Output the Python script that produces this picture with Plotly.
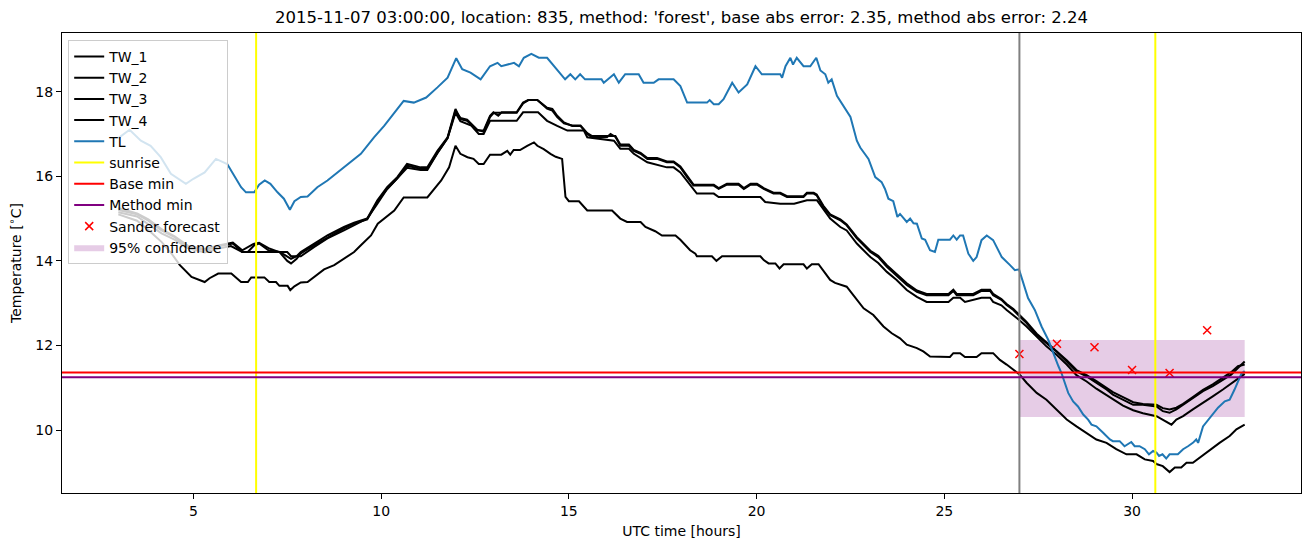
import plotly.graph_objects as go

# ---------------- data ----------------
tl_h = [3.0, 3.3, 3.6, 3.86, 4.13, 4.4, 4.8, 5.0, 5.3, 5.6, 5.9, 6.27, 6.4, 6.62, 6.75, 6.9, 7.05, 7.24, 7.41, 7.57,
        7.69, 7.86, 8.04, 8.3, 8.57, 8.84, 9.1, 9.46, 9.81, 10.08, 10.35, 10.6, 10.87, 11.2, 11.5, 11.77, 12.0, 12.16,
        12.38, 12.65, 12.9, 13.1, 13.2, 13.54, 13.67, 13.8, 14.0, 14.2, 14.42, 14.6, 14.9, 15.04, 15.17, 15.3, 15.43,
        15.87, 15.93, 16.2, 16.33, 16.5, 16.86, 16.99, 17.26, 17.39, 17.79, 17.97, 18.15, 18.68, 18.75, 18.86, 18.99,
        19.12, 19.35, 19.52, 19.75, 19.97, 20.14, 20.63, 20.68, 20.77, 20.9, 20.97, 21.07, 21.25, 21.43, 21.59, 21.7,
        21.83, 21.91, 22.0, 22.14, 22.5, 22.67, 22.76, 22.98, 23.16, 23.33, 23.42, 23.51, 23.64, 23.75, 23.82, 24.0,
        24.09, 24.18, 24.27, 24.4, 24.49, 24.62, 24.75, 24.84, 25.15, 25.24, 25.33, 25.42, 25.5, 25.64, 25.77, 25.86,
        25.99, 26.13, 26.3, 26.39, 26.53, 26.75, 26.88, 26.99, 27.1, 27.23, 27.41, 27.59, 27.77, 27.9, 28.04, 28.12,
        28.21, 28.3, 28.43, 28.56, 28.7, 28.83, 28.92, 29.05, 29.23, 29.41, 29.49, 29.67, 29.8, 29.98, 30.07, 30.2,
        30.34, 30.45, 30.56, 30.65, 30.72, 30.81, 30.91, 31.0, 31.22, 31.36, 31.49, 31.62, 31.71, 31.76, 31.89, 32.11,
        32.29, 32.47, 32.6, 32.73, 32.82, 32.91, 33.0]
tl_t = [16.9, 17.1, 16.84, 16.72, 16.45, 16.06, 15.82, 15.94, 16.09, 16.41, 16.29, 15.74, 15.62, 15.62, 15.8, 15.9,
        15.82, 15.62, 15.47, 15.21, 15.41, 15.51, 15.52, 15.74, 15.9, 16.09, 16.29, 16.53, 16.92, 17.19, 17.5, 17.78,
        17.74, 17.86, 18.1, 18.33, 18.79, 18.53, 18.45, 18.29, 18.6, 18.68, 18.6, 18.68, 18.6, 18.8, 18.89, 18.8, 18.8,
        18.6, 18.29, 18.41, 18.29, 18.41, 18.29, 18.29, 18.21, 18.41, 18.21, 18.41, 18.41, 18.21, 18.21, 18.29, 18.29,
        18.13, 17.74, 17.74, 17.8, 17.7, 17.7, 17.82, 18.21, 17.98, 18.17, 18.6, 18.41, 18.41, 18.33, 18.6, 18.8, 18.64,
        18.8, 18.6, 18.6, 18.8, 18.5, 18.41, 18.21, 18.29, 17.9, 17.4, 16.84, 16.68, 16.41, 15.98, 15.86, 15.7, 15.47,
        15.41, 15.04, 15.11, 14.92, 15.0, 14.89, 14.88, 14.53, 14.5, 14.25, 14.21, 14.5, 14.5, 14.6, 14.5, 14.6, 14.6,
        14.17, 14.0, 14.09, 14.49, 14.6, 14.49, 14.33, 14.09, 13.9, 13.78, 13.8, 13.51, 13.12, 12.84, 12.45, 12.13,
        11.82, 11.51, 11.35, 11.12, 10.88, 10.68, 10.56, 10.37, 10.25, 10.13, 10.09, 9.94, 9.78, 9.74, 9.74, 9.62,
        9.72, 9.62, 9.62, 9.55, 9.43, 9.51, 9.47, 9.39, 9.43, 9.33, 9.43, 9.43, 9.55, 9.62, 9.7, 9.78, 9.7, 10.09,
        10.33, 10.53, 10.68, 10.72, 10.96, 11.15, 11.33, 11.4]

tw1_h = [3.0, 3.5, 3.8, 4.15, 4.5, 4.85, 5.3, 5.7, 6.05, 6.3, 6.45, 6.62, 6.75, 6.89, 7.0, 7.3, 7.5, 7.6, 7.75, 7.86,
         8.22, 8.57, 9.01, 9.28, 9.63, 9.9, 10.16, 10.43, 10.69, 11.05, 11.23, 11.5, 11.77, 11.98, 12.11, 12.29, 12.56,
         12.73, 12.9, 12.99, 13.12, 13.21, 13.61, 13.78, 13.92, 14.16, 14.42, 14.56, 14.69, 14.87, 15.09, 15.31, 15.49,
         15.62, 16.02, 16.11, 16.24, 16.37, 16.6, 16.73, 16.91, 17.09, 17.35, 17.61, 17.79, 17.97, 18.15, 18.32, 18.86,
         18.99, 19.21, 19.52, 19.66, 19.84, 20.01, 20.19, 20.45, 20.63, 20.81, 21.25, 21.34, 21.52, 21.6, 21.78, 21.96,
         22.23, 22.4, 22.67, 23.03, 23.24, 23.47, 23.73, 24.0, 24.27, 24.53, 25.11, 25.24, 25.33, 25.77, 25.99, 26.22,
         26.3, 26.52, 26.66, 26.84, 26.97, 27.19, 27.46, 27.72, 27.99, 28.26, 28.52, 28.79, 29.05, 29.32, 29.49, 29.76,
         30.03, 30.29, 30.65, 30.82, 31.0, 31.18, 31.36, 31.62, 31.89, 32.15, 32.42, 32.64, 32.82, 32.91, 33.0]
tw1_t = [15.2, 15.1, 14.95, 14.72, 14.56, 14.33, 14.25, 14.35, 14.41, 14.21, 14.21, 14.37, 14.41, 14.33, 14.25, 14.21,
         14.11, 14.05, 14.11, 14.21, 14.41, 14.6, 14.8, 14.9, 15.0, 15.43, 15.74, 15.98, 16.29, 16.21, 16.21, 16.6,
         16.92, 17.59, 17.35, 17.31, 17.08, 17.08, 17.43, 17.51, 17.43, 17.51, 17.51, 17.74, 17.8, 17.8, 17.62, 17.59,
         17.43, 17.27, 17.19, 17.19, 17.0, 16.92, 16.93, 17.0, 16.93, 16.72, 16.72, 16.6, 16.53, 16.41, 16.41, 16.33,
         16.33, 16.21, 15.98, 15.78, 15.78, 15.7, 15.8, 15.8, 15.7, 15.8, 15.8, 15.7, 15.59, 15.59, 15.51, 15.51, 15.59,
         15.59, 15.55, 15.27, 15.08, 14.96, 14.84, 14.53, 14.21, 14.09, 13.86, 13.66, 13.43, 13.27, 13.19, 13.19, 13.29,
         13.19, 13.19, 13.29, 13.29, 13.19, 13.08, 12.96, 12.84, 12.72, 12.53, 12.25, 12.06, 11.86, 11.62, 11.39, 11.27,
         11.12, 10.96, 10.84, 10.72, 10.6, 10.6, 10.56, 10.45, 10.41, 10.49, 10.6, 10.76, 10.92, 11.04, 11.19, 11.31,
         11.47, 11.55, 11.62]

tw2_h = [3.0, 3.5, 3.8, 4.15, 4.5, 4.85, 5.3, 5.7, 6.05, 6.3, 6.6, 6.75, 7.0, 7.3, 7.5, 7.6, 7.75, 7.86, 8.22, 8.57,
         9.01, 9.28, 9.63, 9.9, 10.16, 10.43, 10.69, 11.05, 11.23, 11.5, 11.77, 11.98, 12.11, 12.29, 12.56, 12.73, 12.9,
         13.0, 13.21, 13.61, 13.78, 13.92, 14.16, 14.42, 14.56, 14.69, 14.87, 15.09, 15.31, 15.49, 15.62, 16.02, 16.24,
         16.37, 16.6, 16.73, 16.91, 17.09, 17.35, 17.61, 17.79, 17.97, 18.15, 18.32, 18.86, 18.99, 19.21, 19.52, 19.66,
         19.84, 20.01, 20.19, 20.45, 20.63, 20.81, 21.25, 21.34, 21.52, 21.6, 21.78, 21.96, 22.23, 22.4, 22.67, 23.03,
         23.24, 23.47, 23.73, 24.0, 24.27, 24.53, 25.11, 25.24, 25.33, 25.77, 25.99, 26.22, 26.3, 26.52, 26.66, 26.84,
         26.97, 27.19, 27.46, 27.72, 27.99, 28.26, 28.52, 28.79, 29.05, 29.32, 29.49, 29.76, 30.03, 30.29, 30.65, 30.82,
         31.0, 31.18, 31.36, 31.62, 31.89, 32.15, 32.42, 32.64, 32.82, 33.0]
tw2_t = [15.25, 15.12, 14.98, 14.75, 14.58, 14.36, 14.28, 14.37, 14.43, 14.25, 14.4, 14.43, 14.3, 14.2, 14.0, 13.94,
         14.05, 14.18, 14.37, 14.55, 14.77, 14.88, 14.98, 15.4, 15.7, 15.95, 16.25, 16.18, 16.18, 16.55, 16.9, 17.55,
         17.38, 17.34, 17.1, 17.05, 17.4, 17.5, 17.5, 17.5, 17.72, 17.8, 17.8, 17.6, 17.55, 17.4, 17.25, 17.2, 17.2,
         17.02, 16.95, 16.95, 16.95, 16.75, 16.75, 16.62, 16.55, 16.43, 16.43, 16.35, 16.35, 16.23, 16.0, 15.8, 15.8,
         15.72, 15.82, 15.82, 15.72, 15.82, 15.82, 15.72, 15.61, 15.61, 15.53, 15.53, 15.61, 15.61, 15.57, 15.3, 15.1,
         14.98, 14.86, 14.56, 14.24, 14.12, 13.9, 13.7, 13.47, 13.3, 13.22, 13.22, 13.32, 13.22, 13.22, 13.32, 13.32,
         13.22, 13.1, 12.98, 12.86, 12.75, 12.56, 12.28, 12.08, 11.88, 11.65, 11.42, 11.3, 11.16, 11.0, 10.9, 10.78,
         10.66, 10.62, 10.6, 10.52, 10.49, 10.53, 10.62, 10.78, 10.95, 11.08, 11.24, 11.37, 11.51, 11.55]

tw3_h = [3.0, 3.5, 4.15, 4.5, 4.85, 5.3, 5.7, 6.0, 6.3, 7.5, 7.6, 7.86, 8.22, 8.57, 9.01, 9.28, 9.63, 9.9, 10.16, 10.43,
         10.69, 11.05, 11.23, 11.5, 11.77, 11.98, 12.11, 12.4, 12.6, 12.73, 12.9, 13.61, 13.78, 14.18, 14.42, 14.69,
         14.96, 15.4, 15.49, 16.2, 16.37, 16.6, 16.73, 17.09, 17.61, 17.79, 17.97, 18.41, 18.86, 18.99, 20.1, 20.23,
         20.63, 21.0, 21.34, 21.61, 21.96, 22.23, 22.4, 22.67, 23.03, 23.24, 23.47, 23.73, 24.0, 24.27, 24.53, 25.11,
         25.24, 25.42, 25.55, 25.99, 26.22, 26.3, 26.52, 26.66, 26.84, 26.97, 27.19, 27.46, 27.72, 27.99, 28.26, 28.52,
         28.79, 29.05, 29.32, 29.49, 29.76, 30.03, 30.29, 30.65, 30.82, 31.05, 31.18, 31.36, 31.62, 31.89, 32.15, 32.42,
         32.64, 32.82, 33.0]
tw3_t = [15.15, 15.05, 14.65, 14.5, 14.3, 14.2, 14.3, 14.35, 14.21, 14.21, 14.11, 14.11, 14.33, 14.53, 14.72, 14.85,
         15.0, 15.35, 15.7, 15.95, 16.2, 16.15, 16.15, 16.55, 16.9, 17.5, 17.3, 17.2, 17.0, 17.0, 17.31, 17.31, 17.51,
         17.51, 17.31, 17.19, 17.08, 17.08, 16.92, 16.84, 16.65, 16.65, 16.53, 16.33, 16.21, 16.21, 16.09, 15.59, 15.59,
         15.51, 15.51, 15.39, 15.35, 15.35, 15.43, 15.43, 15.0, 14.8, 14.72, 14.41, 14.09, 13.95, 13.74, 13.55, 13.31,
         13.15, 13.03, 13.03, 13.13, 13.13, 13.03, 13.13, 13.13, 13.03, 12.95, 12.84, 12.72, 12.62, 12.45, 12.2, 11.98,
         11.78, 11.55, 11.3, 11.15, 10.98, 10.82, 10.72, 10.58, 10.47, 10.4, 10.33, 10.25, 10.13, 10.25, 10.33, 10.49,
         10.64, 10.8, 10.96, 11.1, 11.2, 11.33]

tw4_h = [3.0, 3.5, 3.8, 4.15, 4.42, 4.64, 4.95, 5.3, 5.43, 5.66, 6.01, 6.27, 6.45, 6.54, 6.89, 7.02, 7.2, 7.29, 7.51,
         7.58, 7.69, 7.86, 8.04, 8.22, 8.48, 8.75, 9.01, 9.28, 9.46, 9.73, 9.91, 10.35, 10.6, 11.23, 11.6, 11.81, 11.98,
         12.11, 12.3, 12.46, 12.6, 12.73, 12.9, 13.2, 13.36, 13.44, 13.53, 13.7, 13.89, 14.07, 14.16, 14.33, 14.51, 14.65,
         14.82, 14.91, 15.0, 15.27, 15.49, 16.15, 16.37, 16.55, 16.91, 17.04, 17.3, 17.48, 17.84, 17.97, 18.23, 18.37,
         18.41, 18.81, 18.93, 19.08, 20.1, 20.19, 20.32, 20.5, 20.61, 20.72, 21.25, 21.34, 21.47, 21.65, 21.96, 22.09,
         22.4, 22.58, 22.85, 23.11, 23.38, 23.6, 23.82, 24.0, 24.27, 24.44, 24.62, 25.15, 25.24, 25.42, 25.55, 25.86,
         25.99, 26.3, 26.48, 26.66, 26.84, 27.01, 27.19, 27.46, 27.72, 27.99, 28.26, 28.52, 28.79, 29.05, 29.32, 29.58,
         29.85, 30.12, 30.34, 30.56, 30.65, 30.82, 31.0, 31.14, 31.31, 31.45, 31.62, 31.8, 32.07, 32.33, 32.6, 32.78, 33.0]
tw4_t = [15.1, 14.95, 14.73, 14.45, 14.17, 13.9, 13.62, 13.5, 13.59, 13.7, 13.7, 13.5, 13.5, 13.61, 13.61, 13.5, 13.5,
         13.41, 13.41, 13.31, 13.4, 13.49, 13.5, 13.62, 13.8, 13.9, 14.06, 14.21, 14.37, 14.6, 14.88, 15.19, 15.5, 15.5,
         15.9, 16.21, 16.72, 16.53, 16.45, 16.41, 16.29, 16.29, 16.51, 16.51, 16.6, 16.51, 16.62, 16.62, 16.72, 16.8,
         16.72, 16.64, 16.53, 16.46, 16.41, 15.51, 15.41, 15.41, 15.19, 15.19, 15.0, 14.92, 14.92, 14.8, 14.7, 14.6, 14.6,
         14.5, 14.25, 14.17, 14.11, 14.11, 14.0, 14.11, 14.11, 14.02, 13.94, 13.94, 13.82, 13.92, 13.92, 13.82, 13.92,
         13.92, 13.55, 13.48, 13.39, 13.19, 12.88, 12.72, 12.45, 12.29, 12.17, 12.02, 11.94, 11.86, 11.74, 11.73, 11.82,
         11.82, 11.73, 11.73, 11.82, 11.82, 11.66, 11.55, 11.43, 11.31, 11.12, 10.88, 10.72, 10.49, 10.25, 10.09, 9.94,
         9.78, 9.7, 9.55, 9.43, 9.43, 9.31, 9.27, 9.2, 9.15, 9.01, 9.12, 9.12, 9.23, 9.23, 9.35, 9.51, 9.7, 9.86, 10.02,
         10.13]

sunrise = [6.67, 30.62]
forecast_time = 27.0
base_min = 11.36
method_min = 11.25
sander_h = [27, 28, 29, 30, 31, 32]
sander_t = [11.80, 12.04, 11.96, 11.42, 11.35, 12.36]
conf_h = [27.0, 33.0]
conf_low = [10.31, 10.31]
conf_high = [12.13, 12.13]

title = ("2015-11-07 03:00:00, location: 835, method: 'forest', "
         "base abs error: 2.35, method abs error: 2.24")

# ---------------- figure ----------------
fig = go.Figure()
LW = 2

# confidence band (drawn first so it sits under the lines)
fig.add_trace(go.Scatter(x=conf_h, y=conf_low, mode="lines", line=dict(width=0, color="rgba(0,0,0,0)"),
                         showlegend=False, hoverinfo="skip"))
fig.add_trace(go.Scatter(x=conf_h, y=conf_high, mode="lines", line=dict(width=0, color="rgba(0,0,0,0)"),
                         fill="tonexty", fillcolor="rgba(128,0,128,0.2)", name="95% confidence",
                         legendrank=10))

for i, (hh, tt) in enumerate([(tw1_h, tw1_t), (tw2_h, tw2_t), (tw3_h, tw3_t), (tw4_h, tw4_t)]):
    fig.add_trace(go.Scatter(x=hh, y=tt, mode="lines", line=dict(color="black", width=LW),
                             name=f"TW_{i+1}", legendrank=i + 1))

fig.add_trace(go.Scatter(x=tl_h, y=tl_t, mode="lines", line=dict(color="#1f77b4", width=LW),
                         name="TL", legendrank=5))

# legend-only entries for reference lines
fig.add_trace(go.Scatter(x=[None], y=[None], mode="lines", line=dict(color="yellow", width=LW),
                         name="sunrise", legendrank=6))
fig.add_trace(go.Scatter(x=[None], y=[None], mode="lines", line=dict(color="red", width=LW),
                         name="Base min", legendrank=7))
fig.add_trace(go.Scatter(x=[None], y=[None], mode="lines", line=dict(color="purple", width=LW),
                         name="Method min", legendrank=8))

fig.add_trace(go.Scatter(x=sander_h, y=sander_t, mode="markers",
                         marker=dict(symbol="x-thin-open", size=8, color="red",
                                     line=dict(color="red", width=1.5)),
                         name="Sander forecast", legendrank=9))

shapes = []
for s in sunrise:
    shapes.append(dict(type="line", xref="x", yref="y domain", x0=s, x1=s, y0=0, y1=1,
                       line=dict(color="yellow", width=LW), layer="above"))
shapes.append(dict(type="line", xref="x", yref="y domain", x0=forecast_time, x1=forecast_time, y0=0, y1=1,
                   line=dict(color="gray", width=LW), layer="above"))
shapes.append(dict(type="line", xref="x domain", yref="y", x0=0, x1=1, y0=base_min, y1=base_min,
                   line=dict(color="red", width=LW), layer="above"))
shapes.append(dict(type="line", xref="x domain", yref="y", x0=0, x1=1, y0=method_min, y1=method_min,
                   line=dict(color="purple", width=LW), layer="above"))

font = "DejaVu Sans, Arial, sans-serif"
fig.update_layout(
    width=1311, height=547,
    margin=dict(l=62, r=10, t=33, b=54),
    paper_bgcolor="white", plot_bgcolor="white",
    font=dict(family=font, size=14, color="black"),
    title=dict(text=title, x=0.5, xanchor="center", xref="paper", y=1 - 17 / 547, yanchor="middle",
               font=dict(size=16.5, family=font, color="black")),
    shapes=shapes,
    showlegend=True,
    legend=dict(x=0.005, y=0.985, xanchor="left", yanchor="top", traceorder="normal",
                bgcolor="rgba(255,255,255,0.8)", bordercolor="#cccccc", borderwidth=1,
                font=dict(size=14, family=font), tracegroupgap=0, itemwidth=30),
)
fig.update_xaxes(range=[1.5, 34.5], tickvals=[5, 10, 15, 20, 25, 30], ticks="outside", ticklen=5, tickwidth=1,
                 tickcolor="black", showline=True, linecolor="black", linewidth=1, mirror=True,
                 showgrid=False, zeroline=False, tickfont=dict(size=14),
                 title=dict(text="UTC time [hours]", font=dict(size=14), standoff=8))
fig.update_yaxes(range=[8.515, 19.385], tickvals=[10, 12, 14, 16, 18], ticks="outside", ticklen=5, tickwidth=1,
                 tickcolor="black", showline=True, linecolor="black", linewidth=1, mirror=True,
                 showgrid=False, zeroline=False, tickfont=dict(size=14),
                 title=dict(text="Temperature [<sup>∘</sup>C]", font=dict(size=14), standoff=10))

fig.write_html("out.html")
